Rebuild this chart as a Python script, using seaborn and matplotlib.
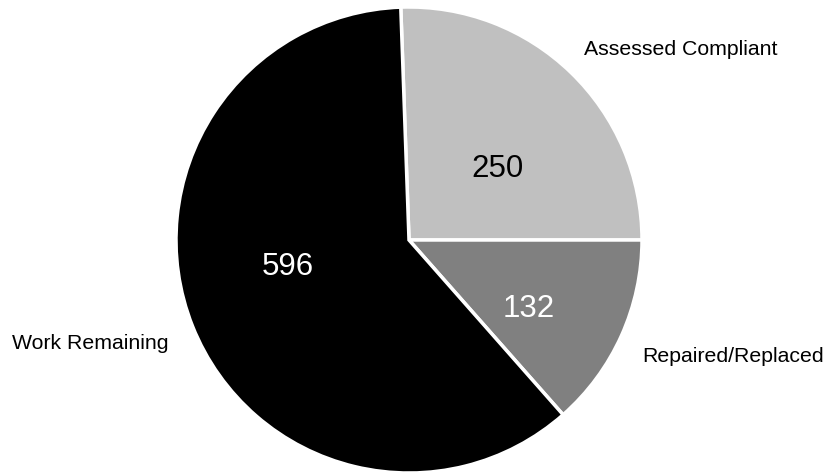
import matplotlib
matplotlib.use("Agg")
import matplotlib.pyplot as plt
import seaborn as sns

categories = ["Assessed Compliant", "Repaired/Replaced", "Work Remaining"]
values = [250, 132, 596]
colors = ["#c0c0c0", "#808080", "#000000"]
value_colors = ["#000000", "#ffffff", "#ffffff"]

# layout (pie-radius units, baseline anchored)
label_pos = [(1.167, 0.795), (1.391, -0.524), (-1.369, -0.466)]
value_pos = [(0.380, 0.270), (0.515, -0.330), (-0.519, -0.150)]

sns.set_theme(style="white")
plt.rcParams["font.family"] = ["Liberation Sans", "DejaVu Sans"]

W, H = 834, 472
fig = plt.figure(figsize=(W / 100, H / 100), dpi=100)
cx, cy, r = 409, 240, 233
ax = fig.add_axes([(cx - r) / W, (H - cy - r) / H, 2 * r / W, 2 * r / H])

total = sum(values)
start = 360 * values[0] / total
wedges, texts = ax.pie(values, colors=colors, startangle=start, counterclock=False,
                       wedgeprops=dict(edgecolor="white", linewidth=2.5),
                       labels=None)
for w in wedges:
    w.set_clip_on(False)
ax.set_xlim(-1, 1)
ax.set_ylim(-1, 1)
ax.set_aspect("equal")
ax.axis("off")

for cat, (x, y) in zip(categories, label_pos):
    ax.text(x, y, cat, ha="center", va="baseline", fontsize=15.3, color="#000000", clip_on=False)
for v, (x, y), c in zip(values, value_pos, value_colors):
    ax.text(x, y, str(v), ha="center", va="baseline", fontsize=22.5, color=c, clip_on=False)

fig.savefig("out.png", dpi=100)
